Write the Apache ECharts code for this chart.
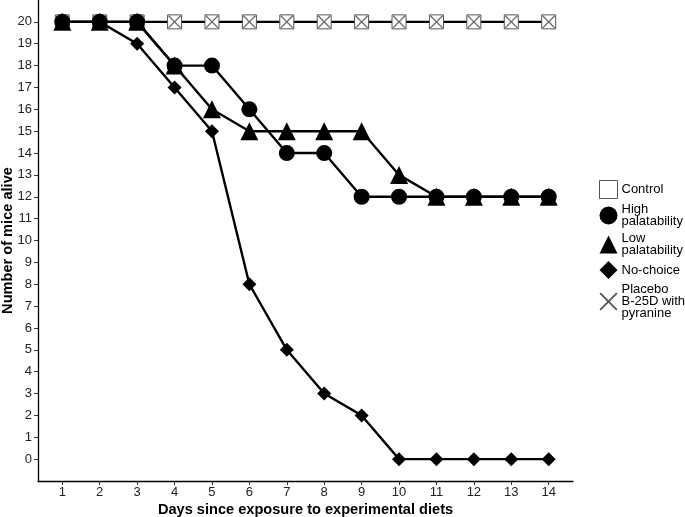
<!DOCTYPE html>
<html>
<head>
<meta charset="utf-8">
<script src="https://cdn.jsdelivr.net/npm/echarts@6/dist/echarts.min.js"></script>
<style>html,body{margin:0;padding:0;background:#fff}#c{width:685px;height:517px}</style>
</head>
<body>
<div id="c"></div>
<script>
var days = [1,2,3,4,5,6,7,8,9,10,11,12,13,14];
var control = [20,20,20,20,20,20,20,20,20,20,20,20,20,20];
var placebo = [20,20,20,20,20,20,20,20,20,20,20,20,20,20];
var highPal = [20,20,20,18,18,16,14,14,12,12,12,12,12,12];
var lowPal = [20,20,20,18,16,15,15,15,15,13,12,12,12,12];
var noChoice = [20,20,19,17,15,8,5,3,2,0,0,0,0,0];
var yTicks = [0,1,2,3,4,5,6,7,8,9,10,11,12,13,14,15,16,17,18,19,20];
var legendText = {
  'Control': 'Control',
  'High palatability': 'High\npalatability',
  'Low palatability': 'Low\npalatability',
  'No-choice': 'No-choice',
  'Placebo B-25D with pyranine': 'Placebo\nB-25D with\npyranine'
};
function pairs(arr){ return days.map(function(d,i){ return [d, arr[i]]; }); }
var xPath = 'path://M0,0.7L0.7,0L5,4.3L9.3,0L10,0.7L5.7,5L10,9.3L9.3,10L5,5.7L0.7,10L0,9.3L4.3,5Z';
var font = 'Liberation Sans, Arial, sans-serif';
var chart = echarts.init(document.getElementById('c'));
chart.setOption({
  animation: false,
  textStyle: {fontFamily: font},
  grid: {left: 38, right: 112, top: 0, bottom: 36, containLabel: false, outerBoundsMode: 'none'},
  xAxis: {
    type: 'value', min: 0.35, max: 14.65,
    name: 'Days since exposure to experimental diets',
    nameLocation: 'middle', nameGap: 21, nameMoveOverlap: false,
    nameTextStyle: {fontSize: 14.6, fontWeight: 'bold', color: '#000', fontFamily: font, verticalAlign: 'top'},
    axisLine: {onZero: false, lineStyle: {color: '#000', width: 1.3}},
    axisTick: {show: true, length: 4, lineStyle: {color: '#333'}, customValues: days},
    axisLabel: {customValues: days, color: '#222', fontSize: 13, margin: 5, fontFamily: font},
    splitLine: {show: false}
  },
  yAxis: {
    type: 'value', min: -1, max: 21, interval: 1,
    name: 'Number of mice alive',
    nameLocation: 'middle', nameGap: 23, nameMoveOverlap: false,
    nameTextStyle: {fontSize: 14.6, fontWeight: 'bold', color: '#000', fontFamily: font},
    axisLine: {show: true, onZero: false, lineStyle: {color: '#000', width: 1.3}},
    axisTick: {show: true, length: 4, lineStyle: {color: '#333'}, customValues: yTicks},
    axisLabel: {customValues: yTicks, color: '#222', fontSize: 13, margin: 6, fontFamily: font},
    splitLine: {show: false}
  },
  legend: {
    orient: 'vertical', left: 594, top: 175,
    itemWidth: 18, itemHeight: 18, itemGap: 4,
    data: [
      {name: 'Control', icon: 'rect', itemStyle: {color: '#fff', borderColor: '#555', borderWidth: 1}},
      {name: 'High palatability', icon: 'circle'},
      {name: 'Low palatability', icon: 'triangle'},
      {name: 'No-choice', icon: 'diamond'},
      {name: 'Placebo B-25D with pyranine', icon: xPath, itemStyle: {color: '#555'}}
    ],
    formatter: function(n){ return legendText[n]; },
    textStyle: {fontSize: 13, lineHeight: 12, color: '#000', fontFamily: font, padding: [0,0,0,-1]}
  },
  series: [
    {name: 'Control', type: 'line', data: pairs(control), symbol: 'rect', symbolSize: 14,
     lineStyle: {color: '#000', width: 2.4}, itemStyle: {color: '#fff', borderColor: '#555', borderWidth: 1}, z: 2},
    {name: 'Placebo B-25D with pyranine', type: 'line', data: pairs(placebo), symbol: xPath, symbolSize: 13,
     lineStyle: {color: '#000', width: 2, opacity: 0}, itemStyle: {color: '#666'}, z: 3},
    {name: 'No-choice', type: 'line', data: pairs(noChoice), symbol: 'diamond', symbolSize: 14,
     lineStyle: {color: '#000', width: 2.4}, itemStyle: {color: '#000'}, z: 4},
    {name: 'High palatability', type: 'line', data: pairs(highPal), symbol: 'circle', symbolSize: 16,
     lineStyle: {color: '#000', width: 2.4}, itemStyle: {color: '#000'}, z: 5},
    {name: 'Low palatability', type: 'line', data: pairs(lowPal), symbol: 'triangle', symbolSize: 18,
     lineStyle: {color: '#000', width: 2.4}, itemStyle: {color: '#000'}, z: 6}
  ]
});
</script>
</body>
</html>
